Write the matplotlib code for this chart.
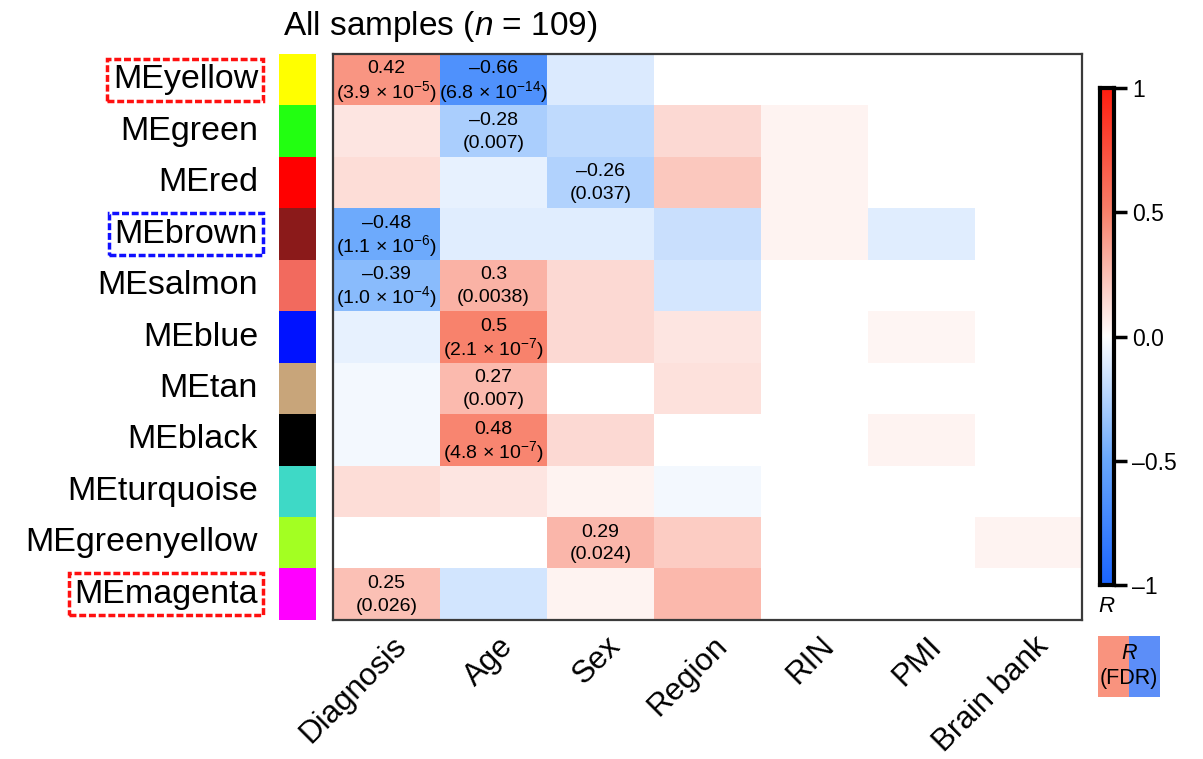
import matplotlib
matplotlib.use("Agg")
import matplotlib.pyplot as plt
import numpy as np
from matplotlib.colors import LinearSegmentedColormap, ListedColormap
from matplotlib.transforms import blended_transform_factory, ScaledTranslation

plt.rcParams["font.family"] = ["Liberation Sans", "DejaVu Sans"]
plt.rcParams["mathtext.fontset"] = "custom"
plt.rcParams["mathtext.rm"] = "Liberation Sans"
plt.rcParams["mathtext.it"] = "Liberation Sans:italic"
plt.rcParams["mathtext.bf"] = "Liberation Sans:bold"

# ---- data ----
modules = ["MEyellow", "MEgreen", "MEred", "MEbrown", "MEsalmon", "MEblue",
           "MEtan", "MEblack", "MEturquoise", "MEgreenyellow", "MEmagenta"]
module_colors = ["#FFFF00", "#22FF11", "#FF0000", "#8B1A1A", "#F26A5E", "#0012FF",
                 "#C8A57A", "#000000", "#3ED9C6", "#A3FF22", "#FF00FF"]
traits = ["Diagnosis", "Age", "Sex", "Region", "RIN", "PMI", "Brain bank"]

# correlation R of each module eigengene with each trait (rows = modules)
r_yellow      = [0.42, -0.66, -0.12, 0.00, 0.00, 0.00, 0.00]
r_green       = [0.10, -0.28, -0.21, 0.15, 0.05, 0.00, 0.00]
r_red         = [0.13, -0.08, -0.26, 0.22, 0.05, 0.00, 0.00]
r_brown       = [-0.48, -0.10, -0.10, -0.18, 0.05, -0.10, 0.00]
r_salmon      = [-0.39, 0.30, 0.15, -0.14, 0.00, 0.00, 0.00]
r_blue        = [-0.08, 0.50, 0.15, 0.10, 0.00, 0.04, 0.00]
r_tan         = [-0.04, 0.27, 0.00, 0.12, 0.00, 0.00, 0.00]
r_black       = [-0.04, 0.48, 0.15, 0.00, 0.00, 0.05, 0.00]
r_turquoise   = [0.13, 0.10, 0.05, -0.04, 0.00, 0.00, 0.00]
r_greenyellow = [0.00, 0.00, 0.29, 0.20, 0.00, 0.00, 0.05]
r_magenta     = [0.25, -0.15, 0.05, 0.28, 0.00, 0.00, 0.00]

# significant cells: (module index, trait index, FDR)
significant = [(0, 0, 3.9e-5), (0, 1, 6.8e-14), (1, 1, 0.007), (2, 2, 0.037),
               (3, 0, 1.1e-6), (4, 0, 1.0e-4), (4, 1, 0.0038), (5, 1, 2.1e-7),
               (6, 1, 0.007), (7, 1, 4.8e-7), (9, 2, 0.024), (10, 0, 0.026)]

# highlighted module labels and their box colours
highlight = {"MEyellow": "#FF1010", "MEbrown": "#1010FF", "MEmagenta": "#FF1010"}

R = np.array([r_yellow, r_green, r_red, r_brown, r_salmon, r_blue, r_tan,
              r_black, r_turquoise, r_greenyellow, r_magenta])

cmap = LinearSegmentedColormap.from_list(
    "bwr_soft",
    [(0.0, "#1A64FF"), (0.25, "#69A8FC"), (0.5, "#FFFFFF"),
     (0.75, "#F8826C"), (1.0, "#FF1E10")], N=257)

W, H = 1203, 759
fig = plt.figure(figsize=(W / 100, H / 100), dpi=100)


def fbox(x0, y0, x1, y1):
    return [x0 / W, 1 - y1 / H, (x1 - x0) / W, (y1 - y0) / H]


# ---- heatmap ----
ax = fig.add_axes(fbox(333, 54, 1082, 620))
ax.imshow(R, cmap=cmap, vmin=-1, vmax=1, aspect="auto", interpolation="nearest")
ax.set_xlim(-0.5, len(traits) - 0.5)
ax.set_ylim(len(modules) - 0.5, -0.5)
ax.set_xticks([])
ax.set_yticks([])
for s in ax.spines.values():
    s.set_linewidth(1.6)
    s.set_color("#3a3a3a")


def fmt_r(v):
    return f"{v:g}".replace("-", "\u2013")


def fmt_fdr(p):
    if p < 1e-3:
        e = int(np.floor(np.log10(p)))
        m = p / 10 ** e
        return f"({m:.1f} \u00d7 10$^{{-{abs(e)}}}$)"
    return f"({p:g})"


for (i, j, p) in significant:
    ax.text(j, i - 0.21, fmt_r(R[i, j]), ha="center", va="center", fontsize=14)
    ax.text(j, i + 0.23, fmt_fdr(p), ha="center", va="center", fontsize=14)

# trait labels, rotated
tr = blended_transform_factory(ax.transData, ax.transAxes) + \
    ScaledTranslation(5 / 100, -11 / 100, fig.dpi_scale_trans)
for j, t in enumerate(traits):
    ax.text(j, 0, t, transform=tr, rotation=45, rotation_mode="anchor",
            ha="right", va="top", fontsize=22.5)

# ---- module colour strip ----
axc = fig.add_axes(fbox(279, 54, 316, 620))
axc.imshow(np.arange(len(modules))[:, None], cmap=ListedColormap(module_colors),
           aspect="auto", interpolation="nearest")
axc.set_xlim(-0.5, 0.5)
axc.set_ylim(len(modules) - 0.5, -0.5)
axc.axis("off")

for i, m in enumerate(modules):
    kw = {}
    if m in highlight:
        kw["bbox"] = dict(boxstyle="square,pad=0.16", fc="none", ec=highlight[m],
                          lw=2.5, ls=(0, (2.0, 0.8)))
    axc.text(-0.5 - 21 / 37, i, m, ha="right", va="center", fontsize=24.5, **kw)

# ---- title ----
fig.text(283 / W, 1 - 35 / H, "All samples ($n$ = 109)", ha="left",
         va="baseline", fontsize=24)

# ---- colour bar ----
axb = fig.add_axes(fbox(1100, 88, 1114, 585))
grad = np.linspace(1, -1, 256)[:, None]
axb.imshow(grad, cmap=cmap, vmin=-1, vmax=1, aspect="auto",
           extent=[0, 1, -1, 1], interpolation="bilinear")
axb.set_xlim(0, 1)
axb.set_ylim(-1, 1)
axb.set_xticks([])
axb.yaxis.tick_right()
axb.set_yticks([1, 0.5, 0, -0.5, -1])
axb.set_yticklabels(["1", "0.5", "0.0", "\u20130.5", "\u20131"], fontsize=16.5)
axb.tick_params(axis="y", length=9, width=2.5, pad=4)
for s in axb.spines.values():
    s.set_linewidth(3)
    s.set_color("black")
fig.text(1107 / W, 1 - 606 / H, "$R$", ha="center", va="center", fontsize=16)

# ---- R / FDR key ----
axk = fig.add_axes(fbox(1098, 636, 1160, 697))
axk.imshow([[0, 1]], cmap=ListedColormap(["#F9937E", "#5C8EF8"]),
           aspect="auto", extent=[0, 2, 0, 1])
axk.set_xlim(0, 2)
axk.set_ylim(0, 1)
axk.axis("off")
axk.text(1, 0.72, "$R$", ha="center", va="center", fontsize=15.5)
axk.text(1, 0.3, "(FDR)", ha="center", va="center", fontsize=15.5)

fig.savefig("out.png", dpi=100)
